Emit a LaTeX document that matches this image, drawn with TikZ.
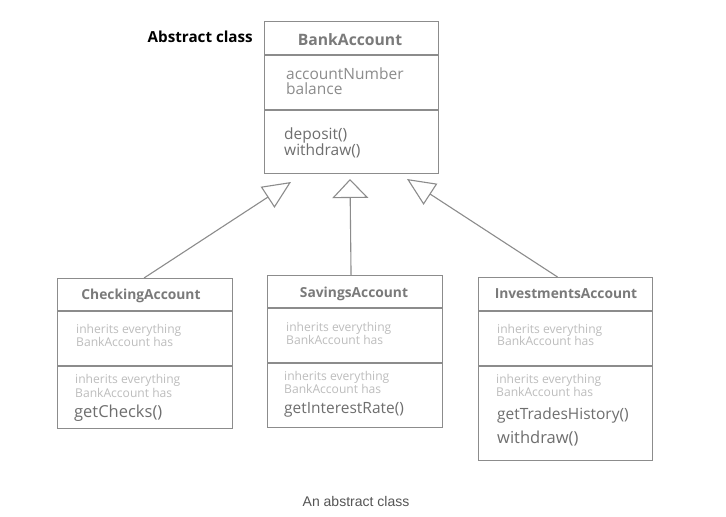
\documentclass[tikz,border=0pt]{standalone}
\usepackage{fontspec}
\setmainfont{Open Sans}
\newfontfamily\captionfont{Liberation Sans}
\usetikzlibrary{arrows.meta}
\definecolor{boxgray}{HTML}{8C8C8C}
\definecolor{titlegray}{HTML}{7A7A7A}
\definecolor{membergray}{HTML}{6E6E6E}
\definecolor{inheritgray}{HTML}{BDBDBD}
\definecolor{captiongray}{HTML}{555555}
\newcommand*{\mytitlestyle}{\fontsize{13.8}{13.8}\selectfont\bfseries}
\tikzset{
  classbox/.style = {draw = boxgray, line width = 1.1pt, anchor = north west,
    inner sep = 0pt},
  divider/.style = {draw = boxgray, line width = 1.1pt},
  classname/.style = {anchor = base, inner sep = 0pt, text = titlegray,
    font = \mytitlestyle},
  member/.style = {anchor = base west, inner sep = 0pt, text = membergray,
    font = \fontsize{15.5}{15.5}\selectfont},
  inherited/.style = {anchor = base west, inner sep = 0pt, text = inheritgray,
    font = \fontsize{12.1}{12.1}\selectfont},
  inherit/.style = {draw = boxgray, line width = 1.1pt,
    -{Triangle[open, #1]}},
  inherit/.default = {length = 26pt, width = 26pt}
}
\newcommand{\umlclass}[7]{%
% node name, left, top, width, height, first divider, second divider
  \node[classbox, minimum width = #4pt, minimum height = #5pt] (#1) at (#2,#3) {};
  \draw[divider] ([yshift = -#6pt]#1.north west) -- ([yshift = -#6pt]#1.north east);
  \draw[divider] ([yshift = -#7pt]#1.north west) -- ([yshift = -#7pt]#1.north east);
}

\begin{document}
\begin{tikzpicture}[x = 1pt, y = -1pt]
  \useasboundingbox[fill = white] (0,0) rectangle (726,517);

  % abstract parent
  \umlclass{bank}{264}{21}{174}{152}{34}{89}
  \node[anchor = base east, inner sep = 0pt, font = \fontsize{15.2}{15.2}\selectfont\bfseries]
    (abstract) at (253,42) {Abstract class};
  \node[classname, font = \fontsize{15.7}{15.7}\selectfont\bfseries] (bankname) at (350,45) {BankAccount};
  \node[member, text = boxgray] (number) at (286,79) {accountNumber};
  \node[member, text = boxgray] (balance) at (286,94) {balance};
  \node[member] (deposit) at (284,139) {deposit()};
  \node[member] (withdraw) at (284,155) {withdraw()};

  % children
  \umlclass{chk}{57}{278}{175}{150}{33}{88}
  \node[classname] (chkname) at (141,299) {CheckingAccount};
  \node[inherited] (chka) at (76,333) {inherits everything};
  \node[inherited] (chkb) at (76,346) {BankAccount has};
  \node[inherited] (chkc) at (75,383) {inherits everything};
  \node[inherited] (chkd) at (75,397) {BankAccount has};
  \node[member, font = \fontsize{16.5}{16.5}\selectfont] (checks) at (74,417) {getChecks()};

  \umlclass{sav}{267}{275}{175}{152}{33}{88}
  \node[classname] (savname) at (354,297) {SavingsAccount};
  \node[inherited] (sava) at (286,331) {inherits everything};
  \node[inherited] (savb) at (286,344) {BankAccount has};
  \node[inherited] (savc) at (284,380) {inherits everything};
  \node[inherited] (savd) at (284,393) {BankAccount has};
  \node[member] (rate) at (284,413) {getInterestRate()};

  \umlclass{inv}{478}{277}{174}{183}{34}{89}
  \node[classname] (invname) at (566,298) {InvestmentsAccount};
  \node[inherited] (inva) at (497,333) {inherits everything};
  \node[inherited] (invb) at (497,345) {BankAccount has};
  \node[inherited] (invc) at (496,383) {inherits everything};
  \node[inherited] (invd) at (496,396) {BankAccount has};
  \node[member] (trades) at (497,419) {getTradesHistory()};
  \node[member, font = \fontsize{16.5}{16.5}\selectfont] (invwithdraw) at (497,443) {withdraw()};

  % inheritance arrows
  \coordinate (tipL) at (291,182);
  \coordinate (tipM) at (350,179);
  \coordinate (tipR) at (407,179);
  \draw[inherit = {length = 28pt, width = 25pt}] ([xshift = -1pt]chk.north) -- (tipL);
  \draw[inherit = {length = 19pt, width = 36pt}] ([xshift = -4pt]sav.north) -- (tipM);
  \draw[inherit = {length = 28pt, width = 25pt}] ([xshift = -8pt]inv.north) -- (tipR);

  \node[anchor = base, inner sep = 0pt, text = captiongray,
    font = \captionfont\fontsize{14}{14}\selectfont] (caption) at (356,506) {An abstract class};
\end{tikzpicture}
\end{document}
